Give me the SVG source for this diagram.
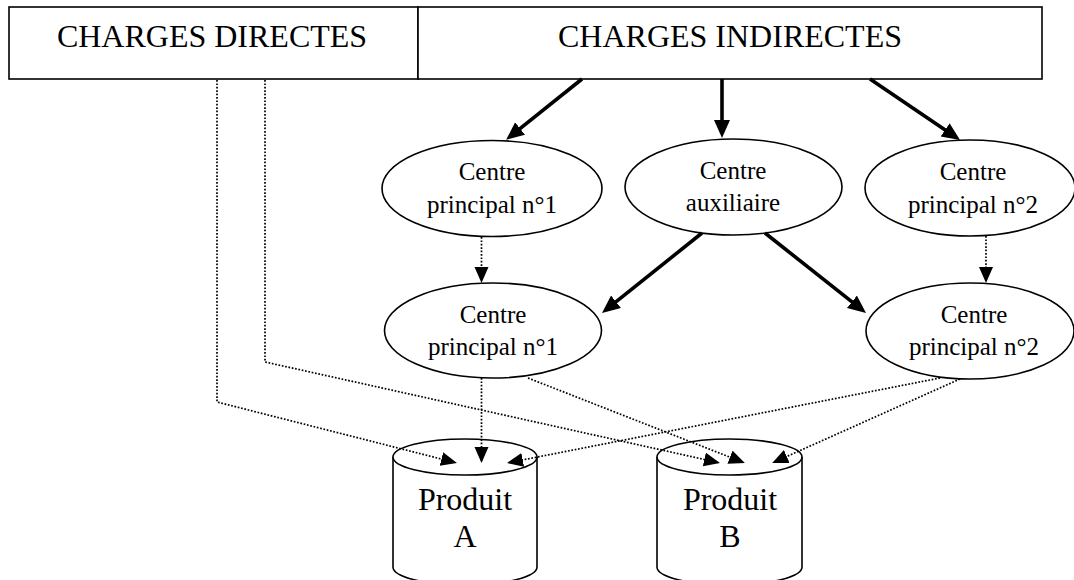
<svg xmlns="http://www.w3.org/2000/svg" width="1074" height="580" viewBox="0 0 1074 580">
<style>
.box{fill:#fff;stroke:#000;stroke-width:1.6}
.node{fill:#fff;stroke:#000;stroke-width:1.6}
.big{font-family:"Liberation Serif","Times New Roman",serif;font-size:32px;fill:#000;text-anchor:middle}
.lbl{font-family:"Liberation Serif","Times New Roman",serif;font-size:25px;fill:#000;text-anchor:middle}
.thick{fill:none;stroke:#000;stroke-width:3.6;marker-end:url(#ah)}
.dot{fill:none;stroke:#000;stroke-width:1.7;stroke-dasharray:1.7 1.7;marker-end:url(#ah2)}
</style>
<defs>
<marker id="ah" markerUnits="userSpaceOnUse" markerWidth="20" markerHeight="18" refX="13" refY="8" orient="auto"><path d="M0,0 L18,8 L0,16 z" fill="#000"/></marker>
<marker id="ah2" markerUnits="userSpaceOnUse" markerWidth="18" markerHeight="16" refX="14" refY="7" orient="auto"><path d="M0,0 L16,7 L0,14 z" fill="#000"/></marker>
</defs>
<rect width="1074" height="580" fill="#fff"/>
<g id="charges-directes">
<rect class="box" x="9" y="7" width="409" height="72"/>
<text class="big" x="212" y="47">CHARGES DIRECTES</text>
</g>
<g id="charges-indirectes">
<rect class="box" x="418" y="7" width="624" height="72"/>
<text class="big" x="730" y="47">CHARGES INDIRECTES</text>
</g>
<g id="centre-principal-1-top">
<ellipse class="node" cx="492" cy="188.5" rx="110" ry="48"/>
<text class="lbl" x="492" y="180">Centre</text>
<text class="lbl" x="492" y="213">principal n°1</text>
</g>
<g id="centre-auxiliaire">
<ellipse class="node" cx="733.5" cy="187" rx="108.5" ry="48"/>
<text class="lbl" x="733" y="179">Centre</text>
<text class="lbl" x="733" y="211">auxiliaire</text>
</g>
<g id="centre-principal-2-top">
<ellipse class="node" cx="970" cy="188" rx="105" ry="48"/>
<text class="lbl" x="973" y="180">Centre</text>
<text class="lbl" x="973" y="213">principal n°2</text>
</g>
<g id="centre-principal-1-bottom">
<ellipse class="node" cx="493" cy="330.5" rx="108.5" ry="47.5"/>
<text class="lbl" x="493" y="323">Centre</text>
<text class="lbl" x="493" y="355">principal n°1</text>
</g>
<g id="centre-principal-2-bottom">
<ellipse class="node" cx="970" cy="331" rx="104" ry="48"/>
<text class="lbl" x="974" y="323">Centre</text>
<text class="lbl" x="974" y="355">principal n°2</text>
</g>
<g id="produit-a">
<path class="node" d="M393,457 L393,567 A72,18 0 0 0 537,567 L537,457"/>
<ellipse class="node" cx="465" cy="457" rx="72" ry="18"/>
<text class="big" x="465" y="510">Produit</text>
<text class="big" x="465" y="547">A</text>
</g>
<g id="produit-b">
<path class="node" d="M657,457 L657,567 A72.5,18 0 0 0 802,567 L802,457"/>
<ellipse class="node" cx="729.5" cy="457" rx="72.5" ry="18"/>
<text class="big" x="730" y="510">Produit</text>
<text class="big" x="730" y="547">B</text>
</g>
<g id="connectors">
<line class="thick" x1="582" y1="79" x2="510" y2="136.7"/>
<line class="thick" x1="722" y1="79" x2="722" y2="133"/>
<line class="thick" x1="870" y1="79" x2="955.9" y2="137.2"/>
<line class="thick" x1="702" y1="233" x2="605.9" y2="309.9"/>
<line class="thick" x1="765" y1="233" x2="862.1" y2="309.9"/>
<line class="dot" x1="481.5" y1="237" x2="481.5" y2="281"/>
<line class="dot" x1="986" y1="236" x2="986" y2="281"/>
<polyline class="dot" points="217,80 217,402 455,462.5"/>
<polyline class="dot" points="265,80 265,362 718,462.5"/>
<line class="dot" x1="481.5" y1="378" x2="481.5" y2="461"/>
<line class="dot" x1="940" y1="378" x2="509" y2="462.6"/>
<line class="dot" x1="528" y1="378" x2="743" y2="462.3"/>
<line class="dot" x1="960" y1="379" x2="774" y2="462.2"/>
</g>
</svg>
